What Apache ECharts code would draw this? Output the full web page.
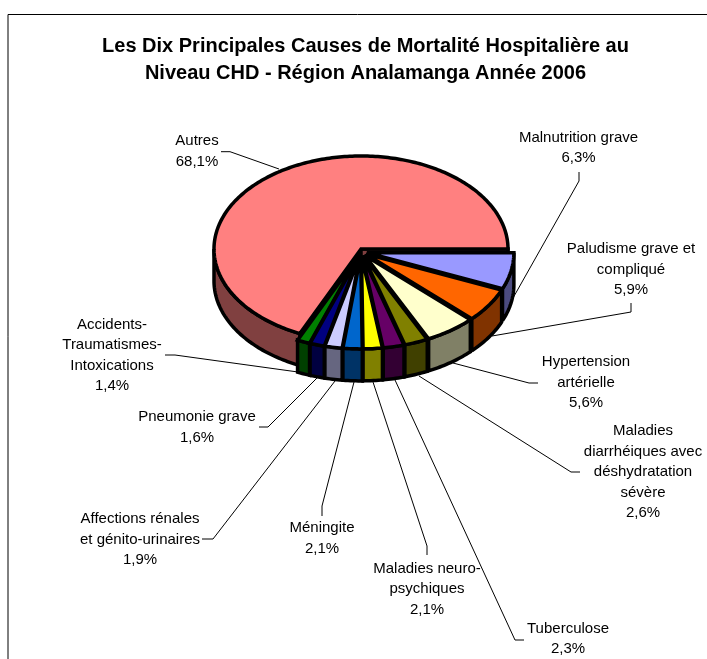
<!DOCTYPE html>
<html>
<head>
<meta charset="utf-8">
<style>html,body{margin:0;padding:0;background:#fff}#c{width:707px;height:659px}</style>
<script src="https://cdn.jsdelivr.net/npm/echarts@6/dist/echarts.min.js"></script>
</head>
<body>
<div id="c"></div>
<script>
var titleText = 'Les Dix Principales Causes de Mortalité Hospitalière au\nNiveau CHD - Région Analamanga Année 2006';
var names = ['Malnutrition grave','Paludisme grave et\ncompliqué','Hypertension\nartérielle','Maladies\ndiarrhéiques avec\ndéshydratation\nsévère','Tuberculose','Maladies neuro-\npsychiques','Méningite','Affections rénales\net génito-urinaires','Pneumonie grave','Accidents-\nTraumatismes-\nIntoxications','Autres'];
var values = [6.3,5.9,5.6,2.6,2.3,2.1,2.1,1.9,1.6,1.4,68.1];
var topColors = ['#9999FF','#FF6600','#FFFFCC','#808000','#660066','#FFFF00','#0066CC','#CCCCFF','#000080','#008000','#FF8080'];
var sideColors = ['#4C4C80','#803300','#808066','#404000','#330033','#808000','#003366','#666680','#000040','#004000','#804040'];

// Layout only
var CX = 361, CY = 249, RX = 147, RY = 93, DEPTH = 32;
var labelAnchors = [[578.5,148],[631,269.5],[586,382.5],[643,472],[568,639],[427,589],[322,538.5],[140,539.5],[197,427.5],[112,355.5],[197,151.5]];
var leaders = [
 [[579,172],[579,181],[513,298]],
 [[631,303],[631,312],[492,336]],
 [[538,383],[529,383],[453,363]],
 [[580,472],[571,472],[419,376]],
 [[524,640],[515,640],[395,380]],
 [[427,555],[427,546],[373,382]],
 [[322,516],[322,506],[354,382]],
 [[202,539],[213,539],[335,381]],
 [[259,427],[268,427],[317,378]],
 [[165,355],[175,355],[298,372]],
 [[221,151.7],[230,151.7],[279,169]]
];
var FONT = '"Liberation Sans", Arial, sans-serif';

var total = values.reduce(function(a,b){return a+b;},0);
var D2R = Math.PI/180;
function startAngle(i){var s=0;for(var k=0;k<i;k++){s+=values[k];}return s/total*360;}
function fmt(v){return v.toFixed(1).replace('.',',')+'%';}

function renderSlice(params, api){
  var i = api.value(1), v = api.value(0);
  var a0 = startAngle(i), a1 = a0 + v/total*360, mid = (a0+a1)/2;
  var isBase = i === values.length-1;
  var ox = isBase ? CX : CX + 6*Math.cos(mid*D2R);
  var oy = isBase ? CY : CY + 3 + 3.9*Math.sin(mid*D2R);
  function rim(a, d){return [ox+RX*Math.cos(a*D2R), oy+RY*Math.sin(a*D2R)+(d||0)];}
  var children = [];
  var st = function(c){return {fill:c,stroke:'#000',lineWidth:3.5,lineJoin:'miter',miterLimit:2};};
  if(isBase){
    [a0,a1].forEach(function(a){
      children.push({type:'polygon',shape:{points:[[ox,oy],rim(a),rim(a,DEPTH),[ox,oy+DEPTH]]},style:st(sideColors[i])});
    });
  }
  var segs = [];
  [[a0,a1],[a0-360,a1-360]].forEach(function(r){
    var s=Math.max(r[0],0), e=Math.min(r[1],180);
    if(e>s){segs.push([s,e]);}
  });
  segs.forEach(function(r){
    var pts=[],a;
    for(a=r[0];a<r[1];a+=1){pts.push(rim(a));}
    pts.push(rim(r[1]));
    for(a=r[1];a>r[0];a-=1){pts.push(rim(a,DEPTH));}
    pts.push(rim(r[0],DEPTH));
    children.push({type:'polygon',shape:{points:pts},style:st(sideColors[i])});
  });
  var top=[[ox,oy]];
  for(var a=a0;a<a1;a+=1){top.push(rim(a));}
  top.push(rim(a1));
  children.push({type:'polygon',shape:{points:top},style:st(topColors[i])});
  return {type:'group',children:children};
}

function renderLabel(params, api){
  var i = api.value(1), v = api.value(0);
  return {type:'group',children:[
    {type:'polyline',shape:{points:leaders[i]},style:{fill:null,stroke:'#000',lineWidth:1}},
    {type:'text',style:{x:labelAnchors[i][0],y:labelAnchors[i][1],text:names[i]+'\n'+fmt(v),
      align:'center',verticalAlign:'middle',fill:'#000',font:'15px '+FONT,lineHeight:20.5}}
  ]};
}

var seriesData = values.map(function(v,i){return {name:names[i].replace(/\n/g,' '),value:[v,i]};});
var order = values.map(function(v,i){return i;}).reverse();
var sliceData = order.map(function(i){return seriesData[i];});

var chart = echarts.init(document.getElementById('c'),null,{renderer:'canvas'});
chart.setOption({
  animation:false,
  backgroundColor:'#fff',
  title:{text:titleText,left:360.5,top:28,textAlign:'center',
    textStyle:{fontFamily:FONT,fontSize:20,fontWeight:'bold',color:'#000',lineHeight:27}},
  graphic:[{type:'polyline',shape:{points:[[8,659],[8,14.5],[707,14.5]]},style:{fill:null,stroke:'#000',lineWidth:1},silent:true}],
  series:[
   {type:'custom',coordinateSystem:'none',renderItem:renderLabel,data:seriesData,z:1,silent:true},
   {type:'custom',coordinateSystem:'none',renderItem:renderSlice,data:sliceData,z:2,silent:true}
  ]
});
</script>
</body>
</html>
